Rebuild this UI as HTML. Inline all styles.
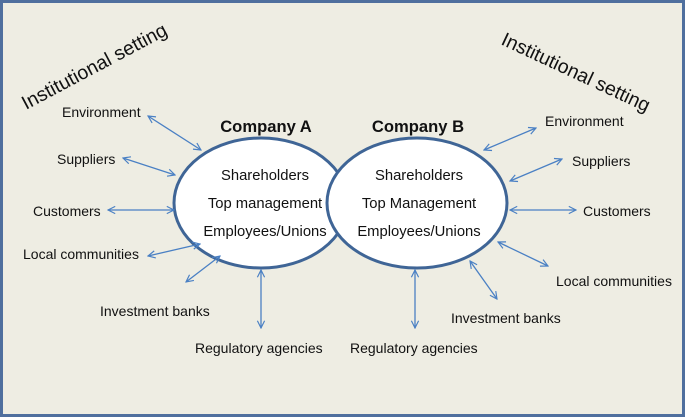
<!DOCTYPE html>
<html><head><style>
html,body{margin:0;padding:0;background:#fff}
svg{display:block}
text{font-family:"Liberation Sans",Arial,sans-serif;fill:#111}
</style></head><body>
<svg width="685" height="417" viewBox="0 0 685 417" xmlns="http://www.w3.org/2000/svg">
<defs>
<marker id="a" viewBox="0 0 10 10" refX="9" refY="5" markerWidth="9" markerHeight="9" orient="auto-start-reverse" markerUnits="userSpaceOnUse">
<path d="M1,1 L9,5 L1,9" fill="none" stroke="#4a80c4" stroke-width="1.3"/>
</marker>
</defs>
<rect x="1.5" y="1.5" width="682" height="414" fill="#eeede3" stroke="#4f6f9e" stroke-width="3"/>
<text transform="translate(26,110) rotate(-28)" font-size="19.5">Institutional setting</text>
<text transform="translate(500,44) rotate(25)" font-size="19.5">Institutional setting</text>
<ellipse cx="261" cy="203" rx="87" ry="65" fill="#fff" stroke="#3f6596" stroke-width="3"/>
<ellipse cx="417" cy="203" rx="90" ry="65" fill="#fff" stroke="#3f6596" stroke-width="3"/>
<text x="266" y="132" font-size="16.6" font-weight="bold" text-anchor="middle">Company A</text>
<text x="418" y="132" font-size="16.6" font-weight="bold" text-anchor="middle">Company B</text>
<g font-size="14.8" text-anchor="middle">
<text x="265" y="180">Shareholders</text>
<text x="265" y="208">Top management</text>
<text x="265" y="236">Employees/Unions</text>
<text x="419" y="180">Shareholders</text>
<text x="419" y="208">Top Management</text>
<text x="419" y="236">Employees/Unions</text>
</g>
<g font-size="14">
<text x="62" y="117">Environment</text>
<text x="57" y="164">Suppliers</text>
<text x="33" y="216">Customers</text>
<text x="23" y="259">Local communities</text>
<text x="100" y="316">Investment banks</text>
<text x="195" y="353">Regulatory agencies</text>
<text x="545" y="126">Environment</text>
<text x="572" y="166">Suppliers</text>
<text x="583" y="216">Customers</text>
<text x="556" y="286">Local communities</text>
<text x="451" y="323">Investment banks</text>
<text x="350" y="353">Regulatory agencies</text>
</g>
<g stroke="#4a80c4" stroke-width="1.3" marker-start="url(#a)" marker-end="url(#a)">
<line x1="148" y1="116" x2="201" y2="150"/>
<line x1="123" y1="158" x2="175" y2="175"/>
<line x1="108" y1="210" x2="174" y2="210"/>
<line x1="148" y1="256" x2="200" y2="244"/>
<line x1="186" y1="282" x2="220" y2="256"/>
<line x1="261" y1="270" x2="261" y2="328"/>
<line x1="484" y1="150" x2="536" y2="128"/>
<line x1="510" y1="181" x2="562" y2="159"/>
<line x1="510" y1="210" x2="576" y2="210"/>
<line x1="498" y1="242" x2="548" y2="266"/>
<line x1="470" y1="261" x2="497" y2="299"/>
<line x1="415" y1="270" x2="415" y2="328"/>
</g>
</svg>
</body></html>
